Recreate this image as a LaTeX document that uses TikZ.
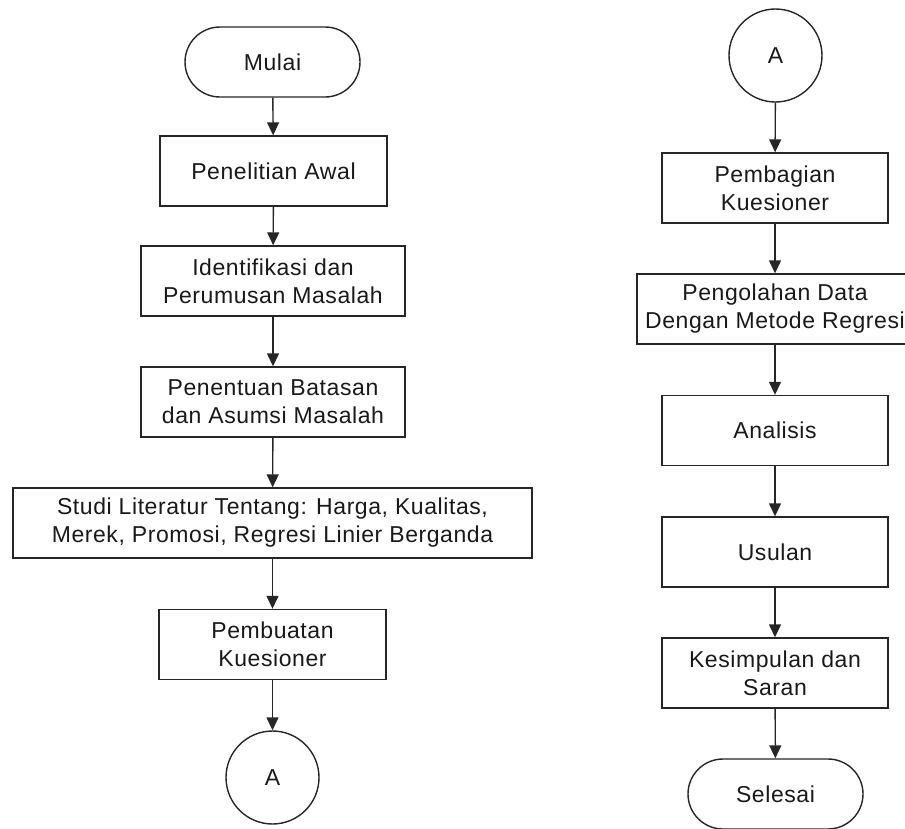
\documentclass[tikz,border=0pt]{standalone}
\usepackage{fontspec}
\setmainfont{Liberation Sans}[LetterSpace=2.5]
\usetikzlibrary{arrows.meta}
\begin{document}
\begin{tikzpicture}[x=1pt,y=-1pt,
  base/.style={draw=black!85, line width=1.4pt, fill=white, align=center, inner sep=0pt,
    text=black!90, font=\fontsize{23}{28}\selectfont},
  proc/.style={base, rectangle, minimum height=70pt},
  term/.style={base, rectangle, rounded corners=35pt, minimum width=175pt, minimum height=70pt},
  conn/.style={base, circle, minimum size=93pt},
  flow/.style={draw=black!85, line width=1.4pt, -{Triangle[width=12pt,length=13pt]}}]
\useasboundingbox (0,0) rectangle (905,828);
% left column
\node[term] (mulai) at (272.5,62) {Mulai};
\node[proc, minimum width=227pt] (awal) at (273.5,171) {Penelitian Awal};
\node[proc, minimum width=264pt] (ident) at (273,281) {Identifikasi dan\\Perumusan Masalah};
\node[proc, minimum width=264pt] (batas) at (273,402) {Penentuan Batasan\\dan Asumsi Masalah};
\node[proc, minimum width=519pt] (studi) at (272.5,523) {Studi Literatur Tentang: Harga, Kualitas,\\Merek, Promosi, Regresi Linier Berganda};
\node[proc, minimum width=227pt] (buat) at (272.5,644.5) {Pembuatan\\Kuesioner};
\node[conn] (a1) at (272.5,777.5) {A};
% right column
\node[conn] (a2) at (775.5,55.5) {A};
\node[proc, minimum width=226pt] (bagi) at (775,188) {Pembagian\\Kuesioner};
\node[proc, minimum width=276pt] (olah) at (775,309) {Pengolahan Data\\Dengan Metode Regresi};
\node[proc, minimum width=226pt] (analisis) at (775,430.5) {Analisis};
\node[proc, minimum width=226pt] (usulan) at (775,552) {Usulan};
\node[proc, minimum width=226pt] (simpul) at (775,673) {Kesimpulan dan\\Saran};
\node[term] (selesai) at (775.5,794) {Selesai};
% connectors
\draw[flow] (mulai) -- (awal);
\draw[flow] (awal) -- (ident);
\draw[flow] (ident) -- (batas);
\draw[flow] (batas) -- (studi);
\draw[flow] (studi) -- (buat);
\draw[flow] (buat) -- (a1);
\draw[flow] (a2) -- (bagi);
\draw[flow] (bagi) -- (olah);
\draw[flow] (olah) -- (analisis);
\draw[flow] (analisis) -- (usulan);
\draw[flow] (usulan) -- (simpul);
\draw[flow] (simpul) -- (selesai);
\end{tikzpicture}
\end{document}
